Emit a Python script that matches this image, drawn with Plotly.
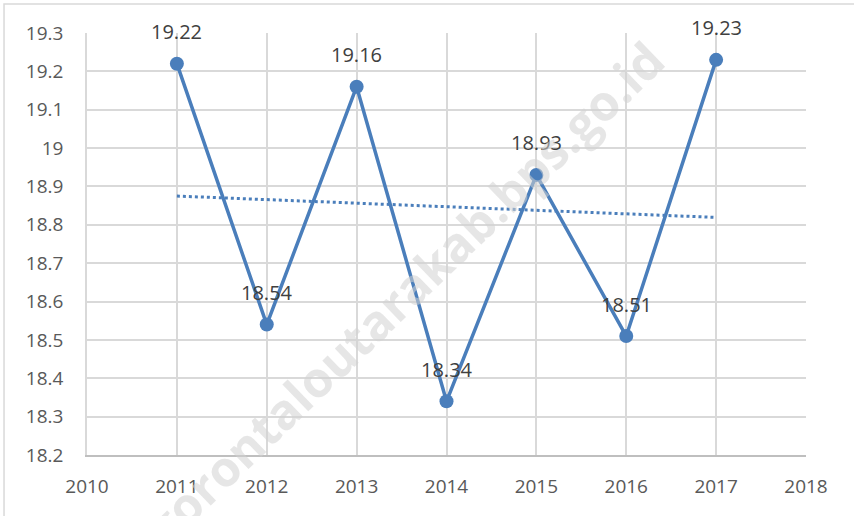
import numpy as np
import plotly.graph_objects as go

years = [2011, 2012, 2013, 2014, 2015, 2016, 2017]
values = [19.22, 18.54, 19.16, 18.34, 18.93, 18.51, 19.23]
x_ticks = list(range(2010, 2019))
y_ticks = [18.2, 18.3, 18.4, 18.5, 18.6, 18.7, 18.8, 18.9, 19.0, 19.1, 19.2, 19.3]
y_tick_labels = ["18.2", "18.3", "18.4", "18.5", "18.6", "18.7", "18.8", "18.9", "19", "19.1", "19.2", "19.3"]
watermark = "gorontaloutarakab.bps.go.id"

line_color = "#4a7ebb"
font_family = "Open Sans, Liberation Sans, sans-serif"

# linear trendline (least squares fit of the series)
slope, intercept = np.polyfit(years, values, 1)
trend_x = [years[0], years[-1]]
trend_y = [slope * x + intercept for x in trend_x]

fig = go.Figure()

fig.add_trace(go.Scatter(
    x=trend_x, y=trend_y, mode="lines",
    line=dict(color=line_color, width=3, dash="dot"),
    hoverinfo="skip", showlegend=False,
))

fig.add_trace(go.Scatter(
    x=years, y=values, mode="lines+markers",
    line=dict(color=line_color, width=3.5),
    marker=dict(color=line_color, size=14),
    showlegend=False,
))

annotations = [
    dict(x=x, y=y, text=f"{y:.2f}", showarrow=False, yshift=32,
         font=dict(size=20, color="#404040", family=font_family))
    for x, y in zip(years, values)
]

annotations.append(dict(
    x=0.44, y=0.385, xref="paper", yref="paper", text=watermark,
    showarrow=False, textangle=-44,
    font=dict(size=49, color="rgba(210,210,210,0.55)", family="Open Sans, DejaVu Sans, sans-serif", weight="bold"),
))

fig.update_layout(
    width=854, height=516,
    margin=dict(l=87, r=48, t=33, b=61, autoexpand=False),
    paper_bgcolor="white", plot_bgcolor="white",
    annotations=annotations,
    shapes=[dict(type="rect", xref="paper", yref="paper",
                 x0=-0.1154, x1=1.3, y0=-0.3, y1=1.0687,
                 line=dict(color="#d9d9d9", width=1.5), layer="below")],
    xaxis=dict(
        range=[2010, 2018], tickvals=x_ticks, ticktext=[str(t) for t in x_ticks],
        showgrid=True, gridcolor="#d9d9d9", gridwidth=1.5,
        showline=True, linecolor="#bfbfbf", linewidth=1.5, mirror=False,
        ticks="", ticklabelstandoff=13, zeroline=False,
        tickfont=dict(size=19, color="#595959", family=font_family),
    ),
    yaxis=dict(
        range=[18.2, 19.3], tickvals=y_ticks, ticktext=y_tick_labels,
        showgrid=True, gridcolor="#d9d9d9", gridwidth=1.5,
        showline=True, linecolor="#d9d9d9", linewidth=1.5,
        ticks="", ticklabelstandoff=18, zeroline=False,
        tickfont=dict(size=19, color="#595959", family=font_family),
    ),
)

fig.write_html(
    "out.html",
    config={"displayModeBar": False},
    post_script="document.body.style.margin='0';document.body.style.overflow='hidden';",
)
